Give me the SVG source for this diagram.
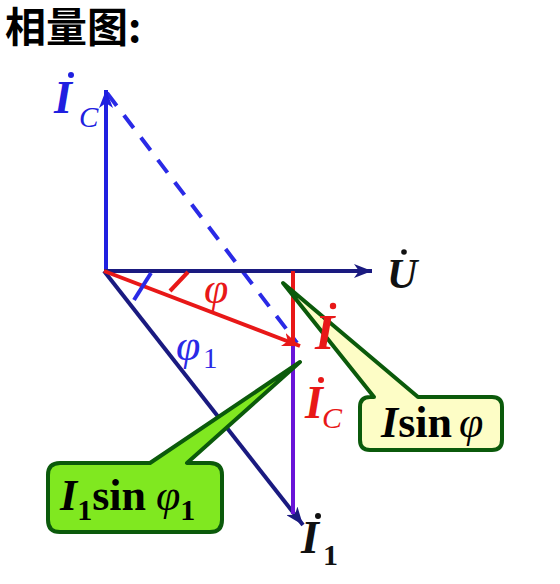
<svg xmlns="http://www.w3.org/2000/svg" width="560" height="584" viewBox="0 0 560 584">
<defs>
<style>
.ln{fill:none;stroke-width:4;stroke-linecap:butt}
.lbl{font-family:"Liberation Serif","Times New Roman",serif;font-style:italic;font-weight:bold}
.sub{font-family:"Liberation Serif","Times New Roman",serif;font-style:italic}
.num{font-family:"Liberation Serif","Times New Roman",serif;font-weight:bold}
.call{stroke:#0b5a0b;stroke-width:4;stroke-linejoin:round}
</style>
<marker id="aBlue" markerUnits="userSpaceOnUse" markerWidth="20" markerHeight="14" refX="18" refY="7" orient="auto"><path d="M0,0 L18,7 L0,14 L5,7 Z" fill="#2020e0"/></marker>
<marker id="aNavy" markerUnits="userSpaceOnUse" markerWidth="20" markerHeight="14" refX="18" refY="7" orient="auto"><path d="M0,0 L18,7 L0,14 L5,7 Z" fill="#1a1a80"/></marker>
<marker id="aRed" markerUnits="userSpaceOnUse" markerWidth="20" markerHeight="14" refX="18" refY="7" orient="auto"><path d="M0,0 L18,7 L0,14 L5,7 Z" fill="#e81818"/></marker>
</defs>
<rect width="560" height="584" fill="#ffffff"/>
<text x="5" y="42" font-family="'Noto Sans CJK SC',sans-serif" font-weight="bold" font-size="41" fill="#000">相量图:</text>

<g id="connectors">
<line id="dash" class="ln" x1="107" y1="93" x2="297" y2="343" stroke="#2a2ae6" stroke-dasharray="16,12"/>
<line id="Ic-vec" class="ln" x1="106" y1="272" x2="106" y2="90" stroke="#2020e0" marker-end="url(#aBlue)"/>
<line id="U-vec" class="ln" x1="104" y1="271" x2="372" y2="271" stroke="#1a1a80" marker-end="url(#aNavy)"/>
<line id="I1-vec" class="ln" x1="104" y1="271" x2="303" y2="525" stroke="#1a1a80" marker-end="url(#aNavy)"/>
<line id="Ic-red" class="ln" x1="293" y1="271" x2="293" y2="346" stroke="#e81818"/>
<line id="Ic-purple" class="ln" x1="293" y1="346" x2="293" y2="514" stroke="#6a14d8"/>
<line id="I-vec" class="ln" x1="104" y1="271" x2="300" y2="346" stroke="#e81818" marker-end="url(#aRed)"/>
<path id="arc-phi1" class="ln" d="M134,300 L151,273" stroke="#2a2ae6"/>
<path id="arc-phi" class="ln" d="M170,291 L188,272" stroke="#e81818"/>
</g>

<g id="callout-Isin">
<path class="call" fill="#fdfdc6" d="M370,397 L374,397 L283,283 L418,397 L492,397 Q502,397 502,407 L502,440 Q502,450 492,450 L370,450 Q360,450 360,440 L360,407 Q360,397 370,397 Z"/>
<text x="381" y="437" font-size="44" fill="#000" font-family="'Liberation Serif',serif"><tspan font-style="italic" font-weight="bold">I</tspan><tspan font-weight="bold">sin</tspan><tspan dx="7" font-style="italic">φ</tspan></text>
</g>
<g id="callout-I1sin">
<path class="call" fill="#80e820" d="M60,463 L150,463 L300,362 L187,463 L210,463 Q222,463 222,475 L222,520 Q222,532 210,532 L60,532 Q48,532 48,520 L48,475 Q48,463 60,463 Z"/>
<text x="60" y="510" font-size="44" fill="#000" font-family="'Liberation Serif',serif"><tspan font-style="italic" font-weight="bold">I</tspan><tspan font-weight="bold" font-size="30" dy="10">1</tspan><tspan font-weight="bold" dy="-10">sin</tspan><tspan dx="10" font-style="italic">φ</tspan><tspan font-weight="bold" font-size="30" dy="10">1</tspan></text>
</g>

<g id="label-U">
<text class="lbl" x="387" y="288" font-size="42" fill="#111">U</text>
<circle cx="404" cy="252" r="2.8" fill="#111"/>
</g>
<g id="label-I">
<text class="lbl" x="315" y="349" font-size="50" fill="#e81818">I</text>
<circle cx="333" cy="306" r="3.2" fill="#e81818"/>
</g>
<g id="label-Ic-red">
<text class="lbl" x="305" y="418" font-size="46" fill="#e81818">I</text>
<circle cx="321" cy="380" r="3" fill="#e81818"/>
<text class="sub" x="322" y="428" font-size="30" fill="#e81818">C</text>
</g>
<g id="label-Ic-blue">
<text class="lbl" x="54" y="113" font-size="46" fill="#2020e0">I</text>
<circle cx="71" cy="75" r="3" fill="#2020e0"/>
<text class="sub" x="79" y="127" font-size="29" fill="#2020e0">C</text>
</g>
<g id="label-I1">
<text class="lbl" x="301" y="553" font-size="46" fill="#111">I</text>
<circle cx="318" cy="516" r="3" fill="#111"/>
<text class="num" x="323" y="565" font-size="30" fill="#111">1</text>
</g>
<g id="label-phi">
<text class="sub" x="204" y="303" font-size="44" fill="#e81818">φ</text>
</g>
<g id="label-phi1">
<text class="sub" x="176" y="360" font-size="44" fill="#2a2ae6">φ</text>
<text font-family="'Liberation Serif',serif" x="203" y="368" font-size="29" fill="#2a2ae6">1</text>
</g>
</svg>
